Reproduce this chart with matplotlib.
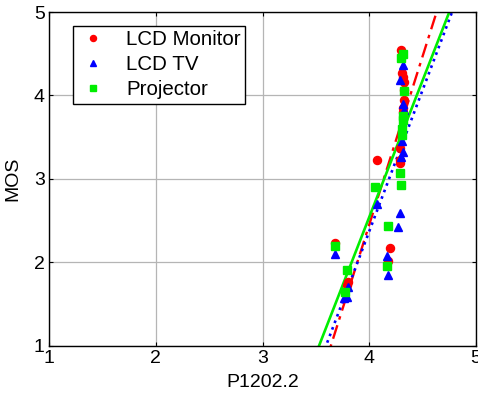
import numpy as np
import matplotlib
matplotlib.use("Agg")
import matplotlib.pyplot as plt

plt.rcParams['font.family'] = ['Liberation Sans', 'DejaVu Sans']

# Data
monitor_x = [3.68, 3.80, 3.79, 4.07, 4.19, 4.18, 4.30, 4.31, 4.32, 4.33, 4.33, 4.33, 4.32, 4.32, 4.29, 4.29, 4.29]
monitor_y = [2.23, 1.76, 1.72, 3.23, 2.17, 2.01, 4.54, 4.27, 4.22, 4.16, 4.06, 3.94, 3.85, 3.80, 3.37, 3.22, 3.19]

tv_x = [3.68, 3.76, 3.79, 3.80, 4.07, 4.29, 4.27, 4.17, 4.18, 4.32, 4.29, 4.32, 4.33, 4.32, 4.30, 4.31]
tv_y = [2.10, 1.57, 1.58, 1.70, 2.70, 2.59, 2.42, 2.07, 1.84, 4.36, 4.18, 3.90, 3.82, 3.32, 3.26, 3.45]

proj_x = [3.68, 3.79, 3.77, 4.05, 4.18, 4.17, 4.32, 4.30, 4.33, 4.32, 4.32, 4.31, 4.31, 4.29, 4.30]
proj_y = [2.19, 1.90, 1.64, 2.90, 2.43, 1.95, 4.50, 4.45, 4.05, 3.75, 3.70, 3.60, 3.52, 3.07, 2.92]

# Linear fits (slope, intercept)
fit_monitor = [4.04, -13.71]
fit_tv = [3.39, -11.19]
fit_proj = [3.28, -10.58]

labels = ['LCD Monitor', 'LCD TV', 'Projector']
ticks = [1, 2, 3, 4, 5]

fig = plt.figure(figsize=(4.78, 3.94), dpi=100)
ax = fig.add_axes([49/478, 1-345.5/394, 427/478, 333.5/394])

xs = np.linspace(1, 5, 400)
ax.plot(xs, np.polyval(fit_monitor, xs), color='red', linestyle=(0, (6, 2.5, 1.5, 2.5)), linewidth=1.7, zorder=2)
ax.plot(xs, np.polyval(fit_tv, xs), color='blue', linestyle=':', linewidth=1.9, zorder=2)
ax.plot(xs, np.polyval(fit_proj, xs), color='#00ee00', linestyle='-', linewidth=1.9, zorder=2)

h1, = ax.plot(monitor_x, monitor_y, 'o', color='red', markersize=5.8, linestyle='none', zorder=3)
h2, = ax.plot(tv_x, tv_y, '^', color='blue', markersize=5.8, linestyle='none', zorder=3)
h3, = ax.plot(proj_x, proj_y, 's', color='#00ee00', markersize=5.4, linestyle='none', zorder=3)

ax.set_xlim(1, 5)
ax.set_ylim(1, 5)
ax.set_xticks(ticks)
ax.set_yticks(ticks)
ax.tick_params(direction='in', length=3, labelsize=14, top=True, right=True, pad=3)
ax.grid(True, color='#b5b5b5', linewidth=0.9, linestyle='-')
ax.set_axisbelow(True)
for s in ax.spines.values():
    s.set_linewidth(1.0)
    s.set_color('black')

ax.set_xlabel('P1202.2', fontsize=14, labelpad=5)
ax.set_ylabel('MOS', fontsize=14, labelpad=9)

leg = ax.legend([h1, h2, h3], labels, loc='upper left', bbox_to_anchor=(24/427, 1-14/333.5),
                borderaxespad=0, fontsize=14.8, fancybox=False, framealpha=1, edgecolor='black',
                markerscale=0.75, handlelength=1.5, handletextpad=0.9, labelspacing=0.3,
                borderpad=0.2)
leg.get_frame().set_linewidth(1.0)

fig.savefig('out.png', dpi=100)
